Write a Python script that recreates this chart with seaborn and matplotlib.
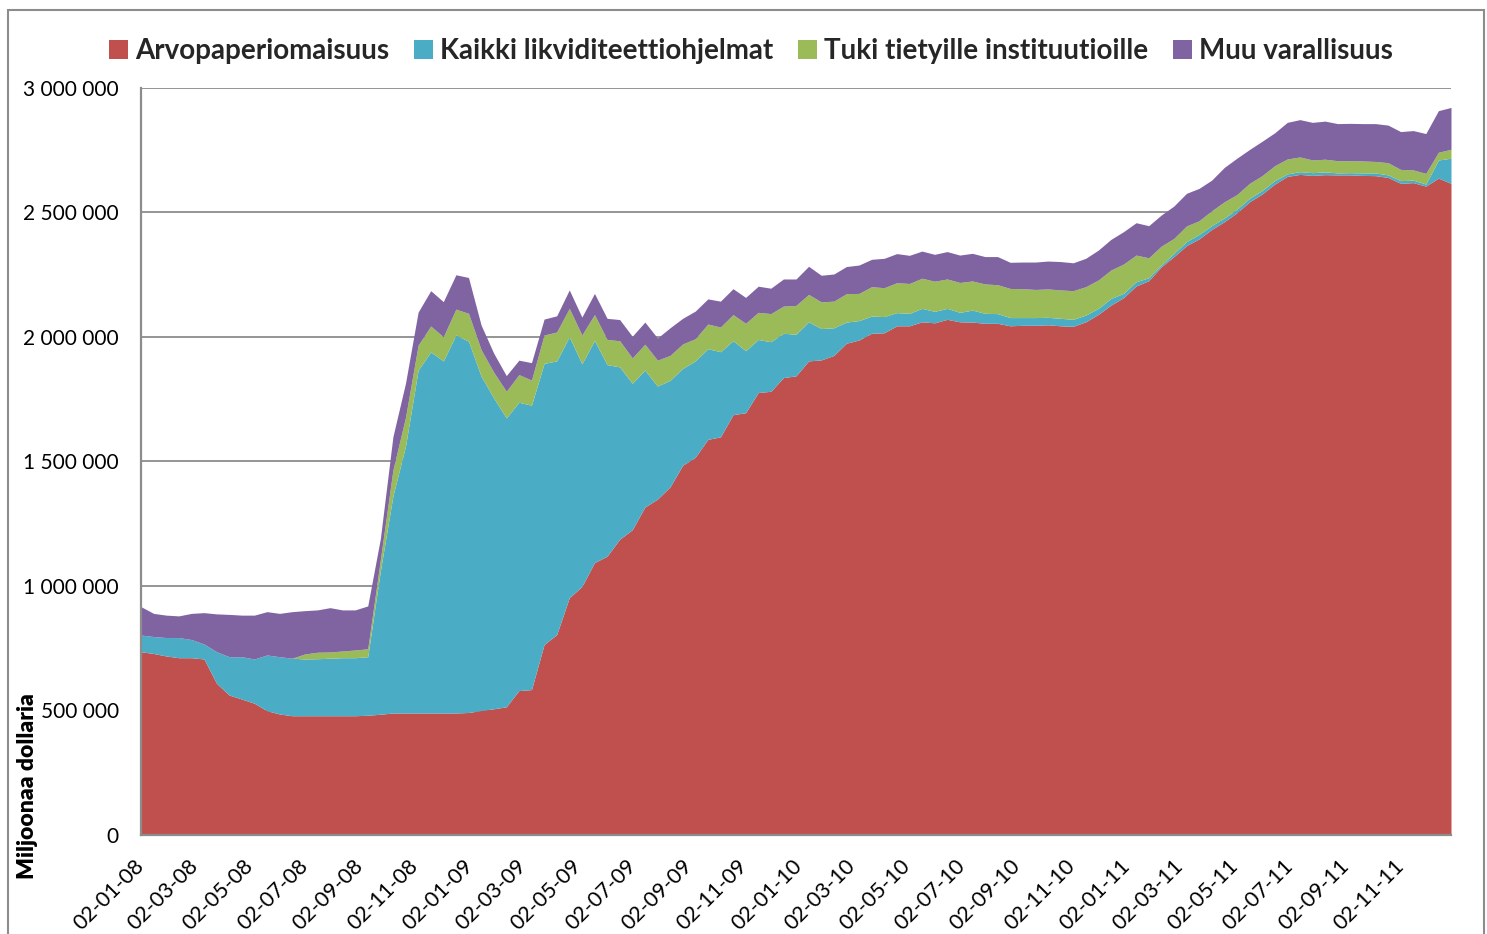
import numpy as np
import pandas as pd
import matplotlib
matplotlib.use("Agg")
import matplotlib.pyplot as plt
from matplotlib.ticker import FuncFormatter, MultipleLocator
from matplotlib.patches import Patch, Rectangle
import seaborn as sns

# ---------------- data (billions of USD, converted to millions below) ----------------
series_names = ["Arvopaperiomaisuus", "Kaikki likviditeettiohjelmat",
                "Tuki tietyille instituutioille", "Muu varallisuus"]
series_colors = ["#C0504D", "#4BACC6", "#9BBB59", "#8064A2"]

# bi-weekly Wednesdays, 2008-01-02 ... 2011-12-28
dates = pd.date_range("2008-01-02", "2011-12-28", freq="14D")

arvopaperi = [736, 729, 719, 712, 712, 707, 609, 562, 546, 529,
              499, 486, 479, 479, 479, 479, 479, 479, 481, 485,
              490, 490, 490, 490, 490, 490, 492, 500, 507, 515,
              580, 584, 765, 805, 953, 998, 1094, 1120, 1188, 1226,
              1317, 1349, 1398, 1485, 1517, 1589, 1599, 1688, 1696, 1777,
              1782, 1837, 1844, 1904, 1908, 1926, 1975, 1988, 2015, 2017,
              2045, 2045, 2061, 2057, 2071, 2061, 2060, 2055, 2055, 2045,
              2047, 2047, 2049, 2045, 2043, 2061, 2091, 2128, 2158, 2205,
              2226, 2282, 2323, 2367, 2394, 2432, 2463, 2499, 2543, 2574,
              2614, 2645, 2653, 2649, 2652, 2651, 2651, 2649, 2648, 2641,
              2617, 2620, 2606, 2638, 2617]

likviditeetti = [67, 68, 74, 81, 73, 60, 127, 154, 170, 178,
                 224, 230, 231, 228, 229, 231, 233, 233, 235, 575,
                 872, 1072, 1377, 1450, 1414, 1518, 1491, 1343, 1248, 1160,
                 1158, 1142, 1129, 1099, 1048, 894, 892, 769, 692, 588,
                 550, 454, 428, 389, 387, 364, 342, 297, 249, 213,
                 199, 178, 167, 157, 126, 111, 85, 78, 69, 65,
                 53, 50, 54, 46, 44, 38, 48, 40, 39, 33,
                 31, 31, 30, 30, 28, 27, 24, 27, 17, 17,
                 12, 7, 13, 16, 18, 15, 15, 14, 14, 14,
                 14, 10, 11, 11, 11, 8, 9, 10, 11, 10,
                 11, 10, 8, 73, 101]

tuki = [0, 0, 0, 0, 0, 0, 0, 0, 0, 0,
        0, 0, 0, 20, 26, 25, 27, 31, 32, 45,
        104, 116, 100, 104, 97, 104, 112, 106, 104, 107,
        111, 101, 114, 116, 114, 116, 104, 101, 105, 102,
        104, 104, 100, 98, 89, 99, 99, 105, 110, 109,
        113, 109, 116, 110, 107, 107, 114, 109, 118, 116,
        120, 120, 121, 121, 118, 120, 117, 118, 116, 117,
        116, 113, 114, 114, 115, 114, 114, 114, 118, 107,
        80, 76, 60, 63, 55, 60, 65, 59, 60, 60,
        60, 60, 59, 51, 51, 49, 48, 48, 46, 49,
        45, 41, 43, 31, 36]

muu = [114, 93, 90, 87, 105, 126, 152, 170, 167, 176,
       174, 174, 187, 174, 170, 178, 165, 161, 172, 85,
       134, 137, 133, 142, 141, 138, 144, 99, 76, 63,
       58, 70, 64, 65, 74, 72, 85, 85, 85, 87,
       89, 89, 111, 103, 111, 101, 104, 104, 104, 105,
       102, 109, 106, 113, 107, 109, 109, 114, 110, 118,
       117, 113, 109, 108, 110, 110, 111, 110, 113, 105,
       107, 110, 112, 114, 112, 114, 120, 123, 130, 130,
       129, 125, 130, 131, 130, 123, 138, 146, 136, 138,
       132, 147, 150, 151, 153, 149, 150, 150, 152, 151,
       152, 158, 160, 167, 168]

tick_dates = [pd.Timestamp(2008, 1, 2) + pd.DateOffset(months=2 * i) for i in range(24)]
tick_labels = [d.strftime("%d-%m-%y") for d in tick_dates]

# ---------------- style ----------------
sns.set_theme(style="white")
plt.rcParams["font.family"] = ["Lato", "DejaVu Sans"]

W, H = 1487, 934
fig = plt.figure(figsize=(W / 100, H / 100), dpi=100)
L, R, T, B = 141, 1451, 88, 835
ax = fig.add_axes([L / W, 1 - B / H, (R - L) / W, (B - T) / H])

values = [np.array(s, dtype=float) * 1000 for s in (arvopaperi, likviditeetti, tuki, muu)]
ax.stackplot(dates, *values, colors=series_colors, linewidth=0, zorder=2)

ax.set_xlim(dates[0], dates[-1])
ax.set_ylim(0, 3_000_000)
ax.yaxis.set_major_locator(MultipleLocator(500_000))
ax.yaxis.set_major_formatter(FuncFormatter(lambda v, p: f"{int(v):,}".replace(",", " ")))
ax.grid(axis="y", color="#8c8c8c", linewidth=1.3, zorder=0)
ax.grid(axis="x", visible=False)
ax.set_axisbelow(True)

for side in ("top", "right"):
    ax.spines[side].set_visible(False)
for side in ("left", "bottom"):
    ax.spines[side].set_color("#8c8c8c")
    ax.spines[side].set_linewidth(1.6)
    ax.spines[side].set_zorder(3)

ax.set_xticks(tick_dates)
ax.set_xticklabels(tick_labels, rotation=45, ha="right", va="center", rotation_mode="anchor")
ax.tick_params(axis="x", length=0, pad=20, labelsize=15.5, colors="black")
ax.tick_params(axis="y", length=0, pad=16, labelsize=15, colors="black")

fig.text(28 / W, 1 - 786 / H, "Miljoonaa dollaria", rotation=90, fontweight="heavy",
         fontsize=16.5, ha="center", va="center", color="black")

handles = [Patch(facecolor=c, edgecolor="none") for c in series_colors]
fig.legend(handles, series_names, loc="center", bbox_to_anchor=(751 / W, 1 - 51 / H),
           ncol=4, frameon=False, handlelength=0.68, handleheight=0.68,
           handletextpad=0.25, columnspacing=0.9,
           prop={"family": "Lato", "weight": "bold", "size": 20})

fig.add_artist(Rectangle((8 / W, -0.01), (1484 - 8) / W, 1 - 10 / H + 0.01,
                         transform=fig.transFigure, fill=False,
                         edgecolor="#8c8c8c", linewidth=1.5))

fig.savefig("out.png", dpi=100)
